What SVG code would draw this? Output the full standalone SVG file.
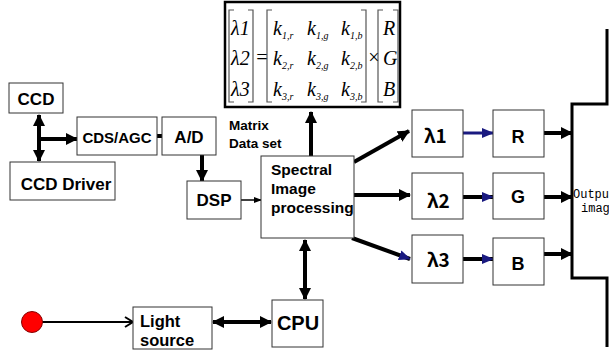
<svg xmlns="http://www.w3.org/2000/svg" width="609" height="354" viewBox="0 0 609 354">
<style>
.box{fill:#fff;stroke:#333;stroke-width:1}
.t{font-family:"Liberation Sans",Arial,sans-serif;font-weight:bold;fill:#000}
.m{font-family:"Liberation Serif","Times New Roman",serif;font-style:italic;font-size:20px;fill:#000}
.sub{font-size:10px}
.br{fill:none;stroke:#555;stroke-width:1.2}
.c{fill:none;stroke:#000;stroke-width:4}
.cn{fill:none;stroke:#1a1a80;stroke-width:3}
.lam{font-family:"Noto Sans CJK JP","DejaVu Sans",sans-serif;font-size:19px;font-weight:bold;fill:#000}
.out{font-family:"Liberation Mono","DejaVu Sans Mono",monospace;font-size:12px;fill:#000}
</style>
<defs>
<marker id="ah" markerUnits="userSpaceOnUse" markerWidth="12" markerHeight="12" refX="11" refY="6" orient="auto-start-reverse"><path d="M0,0 L12,6 L0,12 z" fill="#000"/></marker>
<marker id="ahn" markerUnits="userSpaceOnUse" markerWidth="12" markerHeight="12" refX="11" refY="6" orient="auto"><path d="M0,1 L12,6 L0,11 z" fill="#1a1a80"/></marker>
<marker id="ahs" markerUnits="userSpaceOnUse" markerWidth="8" markerHeight="8" refX="7" refY="4" orient="auto"><path d="M0,1 L8,4 L0,7 z" fill="#000"/></marker>
<marker id="chev" markerUnits="userSpaceOnUse" markerWidth="12" markerHeight="12" refX="10" refY="6" orient="auto"><path d="M2,1 L10,6 L2,11" fill="none" stroke="#000" stroke-width="2"/></marker>
</defs>

<g id="connectors">
<line class="c" x1="39" y1="115" x2="39" y2="161" marker-start="url(#ah)" marker-end="url(#ah)"/>
<line class="c" x1="39" y1="139" x2="77" y2="139" marker-end="url(#ah)"/>
<line class="c" x1="157" y1="136" x2="162" y2="136"/>
<line class="c" x1="202" y1="155" x2="202" y2="181" marker-end="url(#ah)"/>
<line fill="none" stroke="#000" stroke-width="1.5" x1="241" y1="200" x2="261" y2="200" marker-end="url(#ahs)"/>
<line class="c" x1="311" y1="156" x2="311" y2="112" marker-end="url(#ah)"/>
<line class="c" x1="354" y1="162" x2="409" y2="131" marker-end="url(#ah)"/>
<line class="c" x1="354" y1="195" x2="410" y2="195" marker-end="url(#ah)"/>
<line class="c" x1="352" y1="238" x2="410" y2="259" marker-end="url(#ahn)"/>
<line class="c" x1="305" y1="240" x2="305" y2="299" marker-start="url(#ah)" marker-end="url(#ah)"/>
<line class="c" x1="213" y1="322" x2="271" y2="322" marker-start="url(#ah)" marker-end="url(#ah)"/>
<line fill="none" stroke="#000" stroke-width="2" x1="42" y1="322" x2="133" y2="322" marker-end="url(#chev)"/>
<line class="cn" x1="463" y1="133" x2="493" y2="133" marker-end="url(#ahn)"/>
<line class="c" x1="463" y1="197" x2="493" y2="197" marker-end="url(#ahn)"/>
<line class="c" x1="463" y1="259" x2="493" y2="259" marker-end="url(#ahn)"/>
<line class="c" x1="544" y1="133" x2="572" y2="133" marker-end="url(#ah)"/>
<line class="c" x1="544" y1="197" x2="572" y2="197" marker-end="url(#ah)"/>
<line class="c" x1="544" y1="254" x2="572" y2="254" marker-end="url(#ah)"/>
<polyline fill="none" stroke="#000" stroke-width="3" points="607,29 607,104 572,104 572,278 607,278 607,347"/>
</g>

<g id="ccd"><rect class="box" x="9" y="83" width="54" height="30"/><text class="t" x="36" y="105" font-size="17" text-anchor="middle">CCD</text></g>
<g id="ccd-driver"><rect class="box" x="10" y="162" width="105" height="38"/><text class="t" x="66" y="190" font-size="17" text-anchor="middle">CCD Driver</text></g>
<g id="cds-agc"><rect class="box" x="77" y="117" width="80" height="38"/><text class="t" x="117" y="143" font-size="15" text-anchor="middle">CDS/AGC</text></g>
<g id="ad"><rect class="box" x="162" y="117" width="54" height="38"/><text class="t" x="189" y="143" font-size="17" text-anchor="middle">A/D</text></g>
<g id="dsp"><rect class="box" x="187" y="181" width="54" height="38"/><text class="t" x="214" y="206" font-size="17" text-anchor="middle">DSP</text></g>
<g id="spectral"><rect class="box" x="261" y="156" width="93" height="82"/>
<text class="t" font-size="15.5"><tspan x="271" y="175">Spectral</tspan><tspan x="271" y="194">Image</tspan><tspan x="271" y="213">processing</tspan></text></g>
<g id="matrix-label"><text class="t" font-size="13.5"><tspan x="229" y="130">Matrix</tspan><tspan x="229" y="148">Data set</tspan></text></g>

<g id="matrix">
<rect x="225" y="2" width="175" height="105" fill="#fff" stroke="#000" stroke-width="2.5"/>
<path class="br" d="M234,10 H229 V102 H234 M248,10 H253 V102 H248 M272,10 H267 V102 H272 M361,10 H366 V102 H361 M383,10 H378 V102 H383 M393,10 H398 V102 H393"/>
<text class="m"><tspan x="231" y="35">λ1</tspan><tspan x="231" y="65">λ2</tspan><tspan x="231" y="96">λ3</tspan></text>
<text class="m" x="255" y="64" font-style="normal">=</text>
<text class="m" x="367" y="64" font-style="normal" font-size="16">×</text>
<text class="m"><tspan x="273" y="35">k</tspan><tspan class="sub" dy="4">1,r</tspan><tspan x="307" y="35">k</tspan><tspan class="sub" dy="4">1,g</tspan><tspan x="341" y="35">k</tspan><tspan class="sub" dy="4">1,b</tspan></text>
<text class="m"><tspan x="273" y="65">k</tspan><tspan class="sub" dy="4">2,r</tspan><tspan x="307" y="65">k</tspan><tspan class="sub" dy="4">2,g</tspan><tspan x="341" y="65">k</tspan><tspan class="sub" dy="4">2,b</tspan></text>
<text class="m"><tspan x="273" y="96">k</tspan><tspan class="sub" dy="4">3,r</tspan><tspan x="307" y="96">k</tspan><tspan class="sub" dy="4">3,g</tspan><tspan x="341" y="96">k</tspan><tspan class="sub" dy="4">3,b</tspan></text>
<text class="m"><tspan x="383" y="35">R</tspan><tspan x="383" y="65">G</tspan><tspan x="383" y="96">B</tspan></text>
</g>

<g id="lambda1"><rect class="box" x="412" y="110" width="51" height="47"/><text class="lam" x="424" y="143">λ1</text></g>
<g id="lambda2"><rect class="box" x="412" y="173" width="51" height="46"/><text class="lam" x="427" y="208">λ2</text></g>
<g id="lambda3"><rect class="box" x="412" y="235" width="51" height="48"/><text class="lam" x="427" y="267">λ3</text></g>
<g id="r"><rect class="box" x="493" y="110" width="51" height="47"/><text class="t" x="518" y="143" font-size="18" text-anchor="middle">R</text></g>
<g id="g"><rect class="box" x="493" y="173" width="51" height="46"/><text class="t" x="518" y="203" font-size="18" text-anchor="middle">G</text></g>
<g id="b"><rect class="box" x="493" y="238" width="51" height="47"/><text class="t" x="518" y="270" font-size="18" text-anchor="middle">B</text></g>
<g id="output"><text class="out"><tspan x="573" y="198">Output</tspan><tspan x="581" y="212">image</tspan></text></g>

<g id="cpu"><rect class="box" x="272" y="300" width="51" height="47"/><text class="t" x="298" y="330" font-size="20" text-anchor="middle">CPU</text></g>
<g id="light-source"><rect class="box" x="133" y="307" width="79" height="42"/><text class="t" font-size="16.5"><tspan x="140" y="327">Light</tspan><tspan x="140" y="346">source</tspan></text></g>
<g id="lamp"><circle cx="32" cy="322" r="10.5" fill="#f00" stroke="#800" stroke-width="1"/></g>
</svg>
